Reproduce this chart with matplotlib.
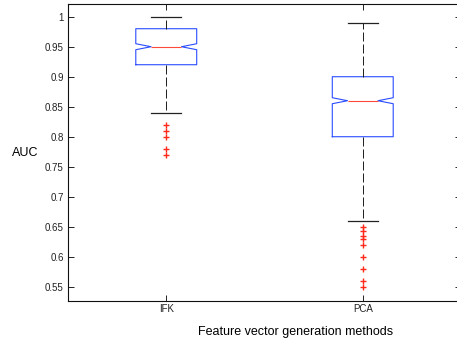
import matplotlib
matplotlib.use("Agg")
import matplotlib.pyplot as plt
from matplotlib.ticker import FormatStrFormatter

# box statistics
methods = ["IFK", "PCA"]
medians = [0.95, 0.86]
q1s = [0.92, 0.80]
q3s = [0.98, 0.90]
whis_lo = [0.84, 0.66]
whis_hi = [1.00, 0.99]
notch_lo = [0.945, 0.855]
notch_hi = [0.955, 0.865]
ifk_outliers = [0.82, 0.81, 0.80, 0.78, 0.77]
pca_outliers = [0.65, 0.643, 0.635, 0.629, 0.62, 0.60, 0.579, 0.56, 0.55]
yticks = [0.55, 0.6, 0.65, 0.7, 0.75, 0.8, 0.85, 0.9, 0.95, 1.0]

plt.rcParams["font.family"] = ["Liberation Sans", "DejaVu Sans"]

fig = plt.figure(figsize=(4.57, 3.45), dpi=100)
ax = fig.add_axes([68 / 457, 44 / 345, 393 / 457, 297 / 345])

outliers = [ifk_outliers, pca_outliers]
stats = []
for i, name in enumerate(methods):
    stats.append({
        "label": name,
        "med": medians[i],
        "q1": q1s[i],
        "q3": q3s[i],
        "whislo": whis_lo[i],
        "whishi": whis_hi[i],
        "cilo": notch_lo[i],
        "cihi": notch_hi[i],
        "fliers": outliers[i],
    })

ax.bxp(stats, positions=[1, 2], widths=0.31, shownotches=True,
       boxprops=dict(color="#2a4cff", linewidth=0.8),
       medianprops=dict(color="#ff4a3a", linewidth=0.8),
       whiskerprops=dict(color="#222222", linewidth=0.72, linestyle=(0, (9, 3))),
       capprops=dict(color="#222222", linewidth=0.9),
       flierprops=dict(marker="+", markeredgecolor="#ff2a1a", markersize=4.5,
                       markeredgewidth=1.0, linestyle="none"))

ax.set_xlim(0.5, 2.5)
ax.set_ylim(0.5262, 1.0212)
ax.set_yticks(yticks)
ax.yaxis.set_major_formatter(FormatStrFormatter("%g"))
ax.set_xticks([1, 2])
ax.set_xticklabels(methods)

ax.tick_params(direction="in", length=4, width=0.7, labelsize=7,
               top=True, right=True, colors="#222222")
ax.tick_params(axis="y", pad=3)
ax.tick_params(axis="x", pad=2)
for s in ax.spines.values():
    s.set_linewidth(0.8)
    s.set_color("#111111")

ax.set_ylabel("AUC", rotation=0, fontsize=9, labelpad=0)
ax.yaxis.set_label_coords(-(68 - 25) / 393, 0.5)
ax.set_xlabel("Feature vector generation methods", fontsize=9)
ax.xaxis.set_label_coords((295.5 - 68) / 393, -(331.7 - 301) / 297)
ax.xaxis.label.set_va("center")
ax.yaxis.label.set_va("center")

fig.savefig("out.png", dpi=100)
